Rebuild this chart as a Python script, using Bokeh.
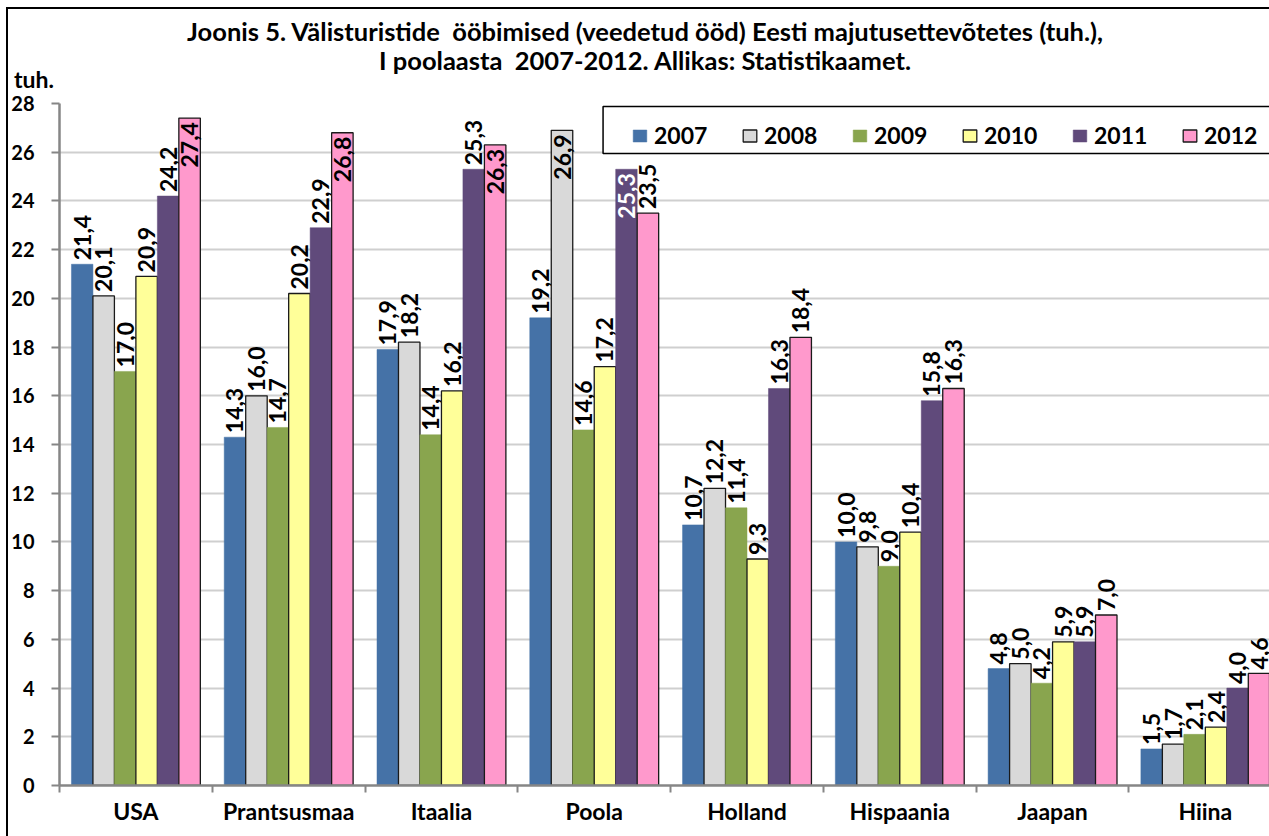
import math
from bokeh.plotting import figure
from bokeh.models import (ColumnDataSource, Range1d, FixedTicker, Legend,
                          LegendItem, BoxAnnotation, Div)
from bokeh.layouts import column
from bokeh.core.properties import value
from bokeh.embed import file_html
from bokeh.resources import INLINE

# ---------------- data ----------------
countries = ["USA", "Prantsusmaa", "Itaalia", "Poola", "Holland", "Hispaania", "Jaapan", "Hiina"]
years = ["2007", "2008", "2009", "2010", "2011", "2012"]
v2007 = [21.4, 14.3, 17.9, 19.2, 10.7, 10.0, 4.8, 1.5]
v2008 = [20.1, 16.0, 18.2, 26.9, 12.2, 9.8, 5.0, 1.7]
v2009 = [17.0, 14.7, 14.4, 14.6, 11.4, 9.0, 4.2, 2.1]
v2010 = [20.9, 20.2, 16.2, 17.2, 9.3, 10.4, 5.9, 2.4]
v2011 = [24.2, 22.9, 25.3, 25.3, 16.3, 15.8, 5.9, 4.0]
v2012 = [27.4, 26.8, 26.3, 23.5, 18.4, 16.3, 7.0, 4.6]
series = [v2007, v2008, v2009, v2010, v2011, v2012]
y_ticks = list(range(0, 29, 2))

title1 = "Joonis 5. Välisturistide&nbsp; ööbimised (veedetud ööd) Eesti majutusettevõtetes (tuh.),"
title2 = "I poolaasta&nbsp; 2007-2012. Allikas: Statistikaamet."
unit = "tuh."

# labels drawn inside the bar top (and their colour)
inside = {("USA", "2012"), ("Prantsusmaa", "2012"), ("Itaalia", "2012"),
          ("Poola", "2008"), ("Poola", "2011")}
white_labels = {("Poola", "2011")}

# ---------------- style ----------------
colors = ["#4572A7", "#D9D9D9", "#89A54E", "#FFFF99", "#604A7B", "#FF99CC"]
outlines = [None, "#1a1a1a", None, "#1a1a1a", None, "#1a1a1a"]
FONT = "Lato"
BW = 0.1406  # bar width in category units

W = 1261
HDR_H = 82
FIG_H = 827 - HDR_H

p = figure(width=W, height=FIG_H, x_range=Range1d(0, 7.92), y_range=Range1d(0, 28),
           output_backend="svg", toolbar_location=None,
           min_border_left=50, min_border_right=0, min_border_top=12, min_border_bottom=51)
p.background_fill_color = "white"
p.border_fill_color = "white"
p.outline_line_color = None

# axes
xa = p.xaxis[0]
xa.ticker = FixedTicker(ticks=[i + 0.5 for i in range(len(countries))],
                        minor_ticks=list(range(len(countries) + 1)))
xa.major_label_overrides = {i + 0.5: c for i, c in enumerate(countries)}
xa.major_tick_out = 0
xa.major_tick_in = 0
xa.minor_tick_out = 7
xa.minor_tick_in = 0
xa.minor_tick_line_color = "#868686"
xa.minor_tick_line_width = 2
xa.axis_line_color = "#868686"
xa.axis_line_width = 2.5
xa.major_label_text_font = FONT
xa.major_label_text_font_style = "bold"
xa.major_label_text_font_size = "23px"
xa.major_label_text_color = "black"
xa.major_label_standoff = 4

ya = p.yaxis[0]
ya.ticker = FixedTicker(ticks=y_ticks, minor_ticks=[])
ya.major_tick_out = 8
ya.major_tick_in = 0
ya.major_tick_line_color = "#868686"
ya.major_tick_line_width = 2
ya.axis_line_color = "#868686"
ya.axis_line_width = 2.5
ya.major_label_text_font = FONT
ya.major_label_text_font_style = "bold"
ya.major_label_text_font_size = "20px"
ya.major_label_text_color = "black"
ya.major_label_standoff = 17

p.xgrid.visible = False
p.ygrid.grid_line_color = "#CFCFCF"
p.ygrid.grid_line_width = 2
p.ygrid.ticker = FixedTicker(ticks=y_ticks[1:])

# legend box
box = BoxAnnotation(left=544 / 152.9, right=9, top=28 - 3 / 24.357, bottom=28 - 50 / 24.357,
                    fill_color="white", fill_alpha=1, line_color="black", line_alpha=1, line_width=1.5,
                    level="overlay")

items = []
for j, (yr, vals) in enumerate(zip(years, series)):
    xs = [i + 0.5 + (j - 2.5) * BW for i in range(len(countries))]
    src = ColumnDataSource(dict(x=xs, top=vals))
    r = p.vbar(x="x", top="top", width=BW, source=src, fill_color=colors[j],
               line_color=outlines[j] if outlines[j] else colors[j],
               line_width=1.3 if outlines[j] else 0.5)
    items.append(LegendItem(label=yr, renderers=[r]))

    out_x, out_y, out_t = [], [], []
    in_x, in_y, in_t, in_c = [], [], [], []
    for i, c in enumerate(countries):
        txt = f"{vals[i]:.1f}".replace(".", ",")
        if (c, yr) in inside:
            in_x.append(xs[i]); in_y.append(vals[i]); in_t.append(txt)
            in_c.append("white" if (c, yr) in white_labels else "black")
        else:
            out_x.append(xs[i]); out_y.append(vals[i]); out_t.append(txt)
    p.text(x="x", y="y", text="t", source=ColumnDataSource(dict(x=out_x, y=out_y, t=out_t)),
           angle=math.pi / 2, text_align="left", text_baseline="middle", y_offset=-4,
           text_font=value(FONT), text_font_style="bold", text_font_size="23px", text_color="black")
    if in_x:
        p.text(x="x", y="y", text="t", text_color="c",
               source=ColumnDataSource(dict(x=in_x, y=in_y, t=in_t, c=in_c)),
               angle=math.pi / 2, text_align="right", text_baseline="middle", y_offset=4,
               text_font=value(FONT), text_font_style="bold", text_font_size="23px")

p.add_layout(box)

legend = Legend(items=items, orientation="horizontal", location=(572, 636),
                padding=10, spacing=27, label_width=60, label_height=27, label_standoff=6,
                glyph_width=17, glyph_height=15, margin=0,
                border_line_color=None, background_fill_alpha=0,
                label_text_font=FONT, label_text_font_style="bold", label_text_font_size="23px",
                label_text_color="black", label_text_baseline="middle")
p.add_layout(legend, "center")

# header (title lines and unit)
html = (
    f'<div style="position:relative;width:{W}px;height:{HDR_H}px;font-family:Lato;'
    'font-weight:bold;color:black;">'
    '<div style="position:absolute;left:637px;top:9.5px;transform:translateX(-50%);'
    f'white-space:nowrap;font-size:25.5px;line-height:1;">{title1}</div>'
    '<div style="position:absolute;left:637px;top:38.5px;transform:translateX(-50%);'
    f'white-space:nowrap;font-size:25.5px;line-height:1;">{title2}</div>'
    '<div style="position:absolute;left:6px;top:58.5px;'
    f'white-space:nowrap;font-size:23px;line-height:1;">{unit}</div>'
    '</div>'
)
hdr = Div(text=html, width=W, height=HDR_H, margin=(0, 0, 0, 0))

layout = column(hdr, p, spacing=0, margin=(7, 0, 0, 6),
                styles={"border-left": "2px solid black", "border-top": "2px solid black"})

open("out.html", "w").write(file_html(layout, INLINE))
